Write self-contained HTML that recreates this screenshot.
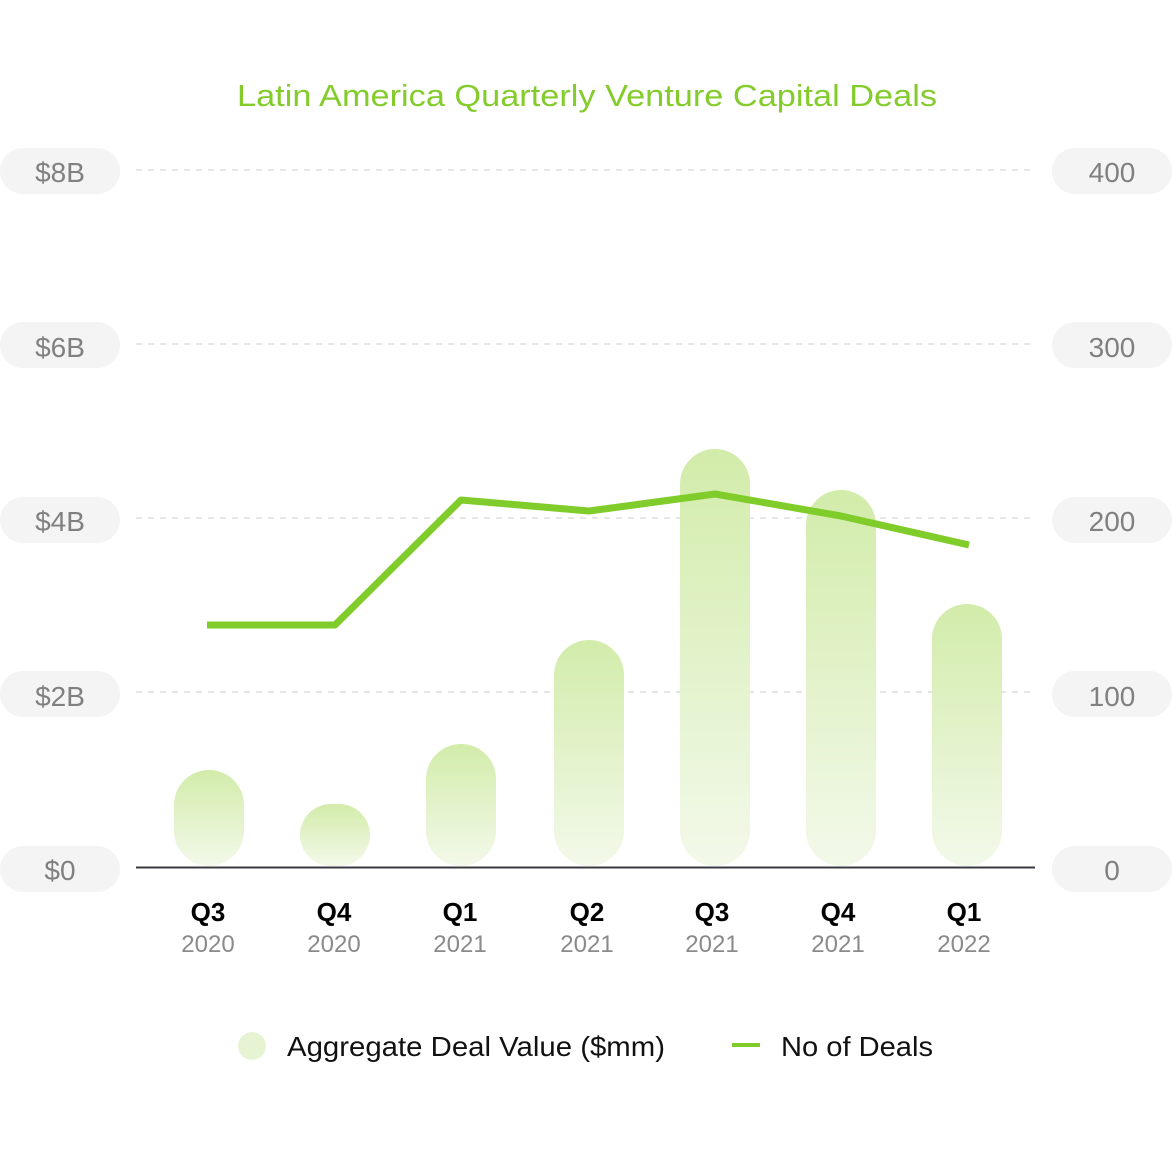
<!DOCTYPE html>
<html><head><style>
body{margin:0;background:#fff;}
svg{display:block;font-family:"Liberation Sans",sans-serif;}
</style></head><body>
<svg width="1172" height="1152" viewBox="0 0 1172 1152">
<defs>
<linearGradient id="g" x1="0" y1="0" x2="0" y2="1">
<stop offset="0" stop-color="#d2ecaa"/><stop offset="1" stop-color="#f3f9ea"/>
</linearGradient>
</defs>
<text x="237" y="106" font-size="31" fill="#84cc2c" textLength="700" lengthAdjust="spacingAndGlyphs">Latin America Quarterly Venture Capital Deals</text>
<g stroke="#dddddd" stroke-width="1.5" stroke-dasharray="6,6">
<line x1="136" y1="170" x2="1035" y2="170"/>
<line x1="136" y1="344" x2="1035" y2="344"/>
<line x1="136" y1="518" x2="1035" y2="518"/>
<line x1="136" y1="692" x2="1035" y2="692"/>
</g>
<g fill="#f4f4f4">
<rect x="0" y="148" width="120" height="46" rx="23"/>
<rect x="0" y="322" width="120" height="46" rx="23"/>
<rect x="0" y="497" width="120" height="46" rx="23"/>
<rect x="0" y="671" width="120" height="46" rx="23"/>
<rect x="0" y="846" width="120" height="46" rx="23"/>
<rect x="1052" y="148" width="120" height="46" rx="23"/>
<rect x="1052" y="322" width="120" height="46" rx="23"/>
<rect x="1052" y="497" width="120" height="46" rx="23"/>
<rect x="1052" y="671" width="120" height="46" rx="23"/>
<rect x="1052" y="846" width="120" height="46" rx="23"/>
</g>
<g font-size="28" fill="#808080" text-anchor="middle">
<text x="60" y="182">$8B</text><text x="60" y="357">$6B</text><text x="60" y="531">$4B</text><text x="60" y="706">$2B</text><text x="60" y="880">$0</text>
<text x="1112" y="182">400</text><text x="1112" y="357">300</text><text x="1112" y="531">200</text><text x="1112" y="706">100</text><text x="1112" y="880">0</text>
</g>
<g fill="url(#g)">
<rect x="174" y="770" width="70" height="96" rx="35"/>
<rect x="300" y="804" width="70" height="62" rx="31"/>
<rect x="426" y="744" width="70" height="122" rx="35"/>
<rect x="554" y="640" width="70" height="226" rx="35"/>
<rect x="680" y="449" width="70" height="417" rx="35"/>
<rect x="806" y="490" width="70" height="376" rx="35"/>
<rect x="932" y="604" width="70" height="262" rx="35"/>
</g>
<line x1="136" y1="867.5" x2="1035" y2="867.5" stroke="#3a3a40" stroke-width="2"/>
<polyline points="207,625 335,625 461,500 589,511 715,494 841,516 969,545" fill="none" stroke="#80cc2a" stroke-width="7" stroke-linejoin="round"/>
<g text-anchor="middle">
<g font-size="26" font-weight="bold" fill="#000">
<text x="208" y="921">Q3</text><text x="334" y="921">Q4</text><text x="460" y="921">Q1</text><text x="587" y="921">Q2</text><text x="712" y="921">Q3</text><text x="838" y="921">Q4</text><text x="964" y="921">Q1</text>
</g>
<g font-size="24" fill="#8a8a8a">
<text x="208" y="952">2020</text><text x="334" y="952">2020</text><text x="460" y="952">2021</text><text x="587" y="952">2021</text><text x="712" y="952">2021</text><text x="838" y="952">2021</text><text x="964" y="952">2022</text>
</g>
</g>
<circle cx="252" cy="1046" r="14" fill="#e6f4d4"/>
<text x="287" y="1056" font-size="28" fill="#111" textLength="378" lengthAdjust="spacingAndGlyphs">Aggregate Deal Value ($mm)</text>
<line x1="732" y1="1045" x2="760" y2="1045" stroke="#80cc2a" stroke-width="4"/>
<text x="781" y="1056" font-size="28" fill="#111" textLength="152" lengthAdjust="spacingAndGlyphs">No of Deals</text>
</svg>
</body></html>
